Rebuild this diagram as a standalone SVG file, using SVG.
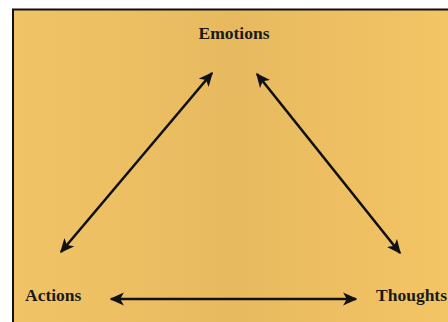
<svg xmlns="http://www.w3.org/2000/svg" width="448" height="322" viewBox="0 0 448 322">
<defs>
<linearGradient id="bg" x1="0" y1="0" x2="1" y2="0">
<stop offset="0" stop-color="#F0C466"/>
<stop offset="0.5" stop-color="#E8BA60"/>
<stop offset="1" stop-color="#F3C564"/>
</linearGradient>
<marker id="ah" viewBox="0 0 10 10" refX="9" refY="5" markerWidth="5.5" markerHeight="5.5" orient="auto-start-reverse" markerUnits="strokeWidth">
<path d="M0,0.5 L10,5 L0,9.5 L2.5,5 Z" fill="#111"/>
</marker>
<style>
.lbl{font-family:"Liberation Serif","Times New Roman",serif;font-weight:bold;font-size:17.5px;fill:#1a1a12}
.con{stroke:#111;stroke-width:2.6;fill:none;marker-start:url(#ah);marker-end:url(#ah)}
</style>
</defs>
<rect x="0" y="0" width="448" height="322" fill="#ffffff"/>
<rect x="13" y="9.5" width="440" height="320" fill="url(#bg)" stroke="#111" stroke-width="2"/>
<g id="connectors">
<line class="con" x1="61" y1="252" x2="212" y2="73"/>
<line class="con" x1="257" y1="74" x2="400" y2="253"/>
<line class="con" x1="111" y1="299" x2="356" y2="299"/>
</g>
<g id="emotions"><text class="lbl" x="234" y="39" text-anchor="middle">Emotions</text></g>
<g id="actions"><text class="lbl" x="25" y="301">Actions</text></g>
<g id="thoughts"><text class="lbl" x="376" y="301">Thoughts</text></g>
</svg>
